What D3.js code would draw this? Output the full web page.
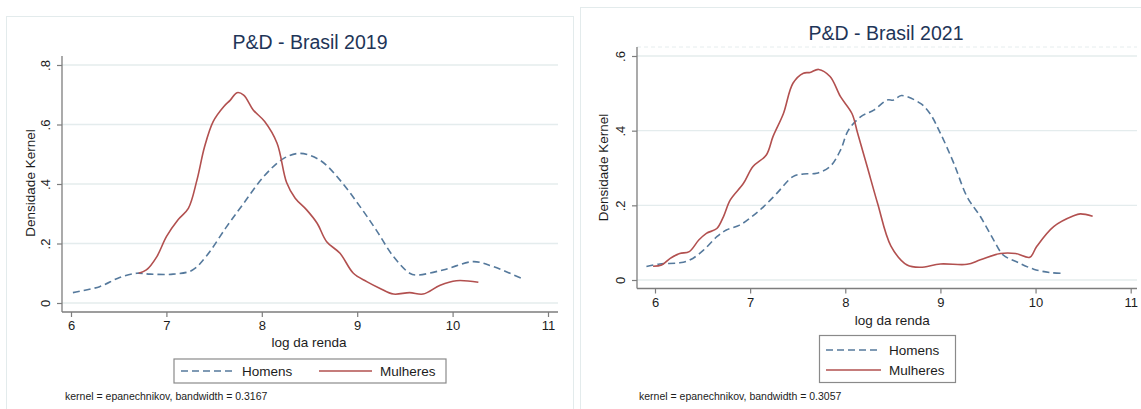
<!DOCTYPE html>
<html>
<head>
<meta charset="utf-8">
<script src="https://cdn.jsdelivr.net/npm/d3@7"></script>
<style>
  html, body { margin: 0; padding: 0; background: #ffffff; }
  svg { display: block; font-family: "Liberation Sans", Arial, Helvetica, sans-serif; }
</style>
</head>
<body>
<svg id="chart" width="1141" height="409"></svg>
<script>
// ---------- DATA ----------
const titles = ["P&D - Brasil 2019", "P&D - Brasil 2021"];
const footnotes = ["kernel = epanechnikov, bandwidth = 0.3167", "kernel = epanechnikov, bandwidth = 0.3057"];
const seriesNames = ["Homens", "Mulheres"];
const xTicks = [6, 7, 8, 9, 10, 11];
const yTicks2019 = [0, 0.2, 0.4, 0.6, 0.8];
const yTicks2021 = [0, 0.2, 0.4, 0.6];
const xLabel = "log da renda";
const yLabel = "Densidade Kernel";

const homens2019X = [6.02, 6.30, 6.51, 6.69, 6.83, 7.07, 7.27, 7.42, 7.63, 7.81, 8.02, 8.23, 8.40, 8.61, 8.82, 9.03, 9.20, 9.38, 9.55, 9.62, 9.90, 10.22, 10.43, 10.72];
const homens2019Y = [0.035, 0.055, 0.086, 0.100, 0.097, 0.097, 0.110, 0.158, 0.256, 0.335, 0.425, 0.486, 0.503, 0.480, 0.413, 0.324, 0.245, 0.156, 0.100, 0.094, 0.111, 0.139, 0.122, 0.083];

const mulheres2019X = [6.71, 6.79, 6.90, 7.00, 7.12, 7.23, 7.32, 7.40, 7.49, 7.60, 7.67, 7.74, 7.81, 7.91, 8.03, 8.16, 8.26, 8.35, 8.47, 8.58, 8.68, 8.82, 8.96, 9.10, 9.24, 9.38, 9.55, 9.69, 9.87, 10.04, 10.27];
const mulheres2019Y = [0.100, 0.111, 0.156, 0.223, 0.279, 0.318, 0.413, 0.525, 0.610, 0.660, 0.682, 0.707, 0.699, 0.649, 0.610, 0.537, 0.405, 0.352, 0.313, 0.268, 0.206, 0.167, 0.100, 0.072, 0.049, 0.030, 0.035, 0.030, 0.060, 0.075, 0.070];

const homens2021X = [5.91, 6.05, 6.26, 6.37, 6.51, 6.65, 6.75, 6.89, 7.02, 7.14, 7.28, 7.45, 7.56, 7.70, 7.84, 7.95, 8.03, 8.16, 8.30, 8.44, 8.51, 8.59, 8.79, 8.89, 9.00, 9.14, 9.28, 9.42, 9.56, 9.66, 9.80, 9.98, 10.15, 10.29];
const homens2021Y = [0.036, 0.043, 0.046, 0.054, 0.080, 0.116, 0.134, 0.147, 0.170, 0.196, 0.232, 0.277, 0.284, 0.286, 0.304, 0.348, 0.400, 0.437, 0.455, 0.482, 0.482, 0.494, 0.473, 0.446, 0.393, 0.313, 0.223, 0.170, 0.107, 0.067, 0.049, 0.029, 0.020, 0.018];

const mulheres2021X = [5.98, 6.07, 6.16, 6.26, 6.36, 6.46, 6.54, 6.65, 6.72, 6.79, 6.93, 7.03, 7.17, 7.24, 7.35, 7.45, 7.56, 7.63, 7.72, 7.84, 7.95, 8.07, 8.13, 8.23, 8.34, 8.48, 8.65, 8.79, 9.00, 9.28, 9.42, 9.63, 9.79, 9.94, 10.01, 10.19, 10.40, 10.47, 10.60];
const mulheres2021Y = [0.037, 0.040, 0.058, 0.071, 0.076, 0.107, 0.125, 0.138, 0.170, 0.214, 0.259, 0.304, 0.335, 0.384, 0.446, 0.527, 0.554, 0.556, 0.564, 0.545, 0.491, 0.446, 0.393, 0.304, 0.205, 0.091, 0.040, 0.034, 0.043, 0.042, 0.054, 0.071, 0.071, 0.061, 0.089, 0.143, 0.172, 0.177, 0.171];

// ---------- LAYOUT / STYLE ----------
const colHomens = "#55799c";
const colMulheres = "#b2504f";
const gridCol = "#e4eced";
const axisCol = "#7d7d7d";
const textCol = "#1c1c1c";
const titleCol = "#1e3558";

const panels = [
  {
    title: titles[0], foot: footnotes[0], yTicks: yTicks2019, yMax: 0.8,
    hx: homens2019X, hy: homens2019Y, mx: mulheres2019X, my: mulheres2019Y,
    frame: [6.5, 16.5, 567, 400],
    xr: [71, 548], yr: [303, 65], axX: 62, axYtop: 56, axY: 312, axRight: 558,
    titleX: 310, titleY: 49, yLabX: 30, yLabY: 183,
    xLabY: 347, footX: 65, footY: 400, topDash: false,
    legend: { type: "h", x: 174, y: 359, w: 272, h: 24 }
  },
  {
    title: titles[1], foot: footnotes[1], yTicks: yTicks2021, yMax: 0.6,
    hx: homens2021X, hy: homens2021Y, mx: mulheres2021X, my: mulheres2021Y,
    frame: [580.5, 7.5, 570, 410],
    xr: [655, 1130.7], yr: [280, 56], axX: 637, axYtop: 47, axY: 288.5, axRight: 1137,
    titleX: 886, titleY: 40, yLabX: 603, yLabY: 167.5,
    xLabY: 325, footX: 639, footY: 399.5, topDash: true,
    legend: { type: "v", x: 819.5, y: 335.5, w: 136, h: 47 }
  }
];

const svg = d3.select("#chart");

panels.forEach(p => {
  const g = svg.append("g");
  // frame
  g.append("rect")
    .attr("x", p.frame[0]).attr("y", p.frame[1])
    .attr("width", p.frame[2]).attr("height", p.frame[3])
    .attr("fill", "none").attr("stroke", "#e3ebec").attr("stroke-width", 1);

  const x = d3.scaleLinear().domain([6, 11]).range(p.xr);
  const y = d3.scaleLinear().domain([0, p.yMax]).range(p.yr);

  // gridlines
  g.append("g").selectAll("line").data(p.yTicks).join("line")
    .attr("x1", p.axX).attr("x2", p.axRight)
    .attr("y1", d => y(d)).attr("y2", d => y(d))
    .attr("stroke", gridCol).attr("stroke-width", 1.3);

  if (p.topDash) {
    g.append("line").attr("x1", p.axX).attr("x2", p.axRight)
      .attr("y1", p.axYtop).attr("y2", p.axYtop)
      .attr("stroke", "#e6edee").attr("stroke-width", 1).attr("stroke-dasharray", "4,3");
  }

  // axes lines
  g.append("line").attr("x1", p.axX).attr("x2", p.axX).attr("y1", p.axYtop).attr("y2", p.axY)
    .attr("stroke", axisCol).attr("stroke-width", 1.3);
  g.append("line").attr("x1", p.axX).attr("x2", p.axRight).attr("y1", p.axY).attr("y2", p.axY)
    .attr("stroke", axisCol).attr("stroke-width", 1.3);

  // x axis
  const xa = g.append("g").attr("transform", `translate(0,${p.axY})`)
    .call(d3.axisBottom(x).tickValues(xTicks).tickSize(5).tickSizeOuter(0).tickFormat(d3.format("d")));
  xa.select(".domain").remove();
  xa.selectAll(".tick line").attr("stroke", axisCol).attr("stroke-width", 1.2);
  xa.selectAll(".tick text").attr("fill", textCol).attr("font-size", 13).attr("y", 9).attr("dy", "0.71em")
    .attr("font-family", "'Liberation Sans', Arial, sans-serif");

  // y axis
  const fmtY = d => d === 0 ? "0" : d3.format(".1f")(d).replace(/^0/, "");
  const ya = g.append("g").attr("transform", `translate(${p.axX},0)`)
    .call(d3.axisLeft(y).tickValues(p.yTicks).tickSize(5).tickSizeOuter(0).tickFormat(fmtY));
  ya.select(".domain").remove();
  ya.selectAll(".tick line").attr("stroke", axisCol).attr("stroke-width", 1.2);
  ya.selectAll(".tick text")
    .attr("fill", textCol).attr("font-size", 13)
    .attr("font-family", "'Liberation Sans', Arial, sans-serif")
    .attr("text-anchor", "middle")
    .attr("transform", "rotate(-90)")
    .attr("x", 0).attr("y", -17).attr("dy", "0.35em");

  // title
  g.append("text").attr("x", p.titleX).attr("y", p.titleY).attr("text-anchor", "middle")
    .attr("font-size", 19.5).attr("fill", titleCol).text(p.title);

  // axis titles
  g.append("text").attr("x", (p.xr[0] + p.xr[1]) / 2 - 0.5).attr("y", p.xLabY).attr("text-anchor", "middle")
    .attr("font-size", 13.5).attr("fill", textCol).text(xLabel);
  g.append("text").attr("transform", `translate(${p.yLabX},${p.yLabY}) rotate(-90)`)
    .attr("text-anchor", "middle").attr("dy", "0.35em")
    .attr("font-size", 13.5).attr("fill", textCol).text(yLabel);

  // lines
  const line = d3.line().x(d => x(d[0])).y(d => y(d[1])).curve(d3.curveCatmullRom.alpha(0.5));
  const hData = p.hx.map((v, i) => [v, p.hy[i]]);
  const mData = p.mx.map((v, i) => [v, p.my[i]]);
  g.append("path").datum(hData).attr("d", line).attr("fill", "none")
    .attr("stroke", colHomens).attr("stroke-width", 1.6).attr("stroke-dasharray", "7,4");
  g.append("path").datum(mData).attr("d", line).attr("fill", "none")
    .attr("stroke", colMulheres).attr("stroke-width", 1.6);

  // legend
  const L = p.legend;
  const lg = g.append("g");
  lg.append("rect").attr("x", L.x).attr("y", L.y).attr("width", L.w).attr("height", L.h)
    .attr("fill", "#fff").attr("stroke", "#8a8a8a").attr("stroke-width", 1.2);
  const items = [
    { name: seriesNames[0], col: colHomens, dash: "7,4" },
    { name: seriesNames[1], col: colMulheres, dash: null }
  ];
  let pos;
  if (L.type === "h") {
    pos = [ { x1: 181, x2: 235, tx: 242, ty: L.y + 12 }, { x1: 319, x2: 372, tx: 380, ty: L.y + 12 } ];
  } else {
    pos = [ { x1: 826, x2: 881, tx: 889, ty: 350 }, { x1: 826, x2: 881, tx: 889, ty: 370 } ];
  }
  items.forEach((it, i) => {
    const q = pos[i];
    lg.append("line").attr("x1", q.x1).attr("x2", q.x2).attr("y1", q.ty).attr("y2", q.ty)
      .attr("stroke", it.col).attr("stroke-width", 1.6).attr("stroke-dasharray", it.dash);
    lg.append("text").attr("x", q.tx).attr("y", q.ty).attr("dy", "0.36em")
      .attr("font-size", 13.5).attr("fill", textCol).text(it.name);
  });

  // footnote
  g.append("text").attr("x", p.footX).attr("y", p.footY).attr("font-size", 10.5)
    .attr("fill", textCol).text(p.foot);
});
</script>
</body>
</html>
